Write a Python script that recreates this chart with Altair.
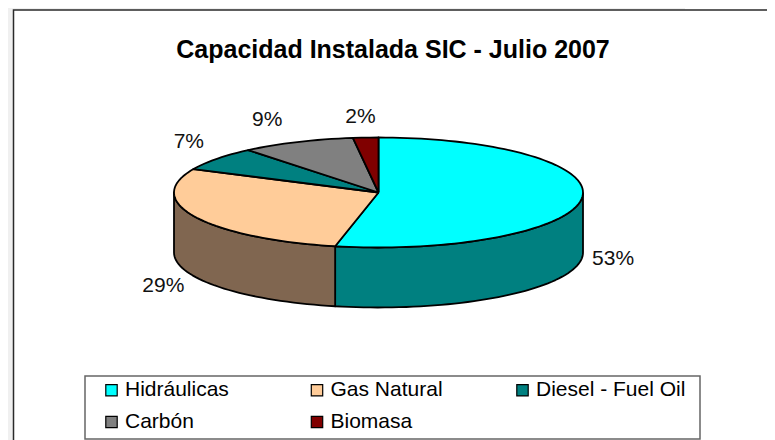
import math
import altair as alt
import pandas as pd

categories = ["Hidráulicas", "Gas Natural", "Diesel - Fuel Oil", "Carbón", "Biomasa"]
shares = [53.4, 28.6, 7, 9, 2]
face_colors = ["#00FFFF", "#FFCC99", "#008080", "#808080", "#800000"]
wall_colors = {"Hidráulicas": "#008080", "Gas Natural": "#806650"}
chart_title = "Capacidad Instalada SIC - Julio 2007"

W, H = 759, 432
CX, CY, RX, RY, DEPTH = 370.5, 184.5, 204.5, 55, 60
LABEL_RX, LABEL_RY = 240, 78
LABEL_NUDGE = {"Hidráulicas": (-4, -2), "Gas Natural": (0, -1), "Diesel - Fuel Oil": (0, -3), "Carbón": (-16, -1), "Biomasa": (-3, 2)}


def ellipse(deg, drop=0.0):
    a = math.radians(deg)
    return CX + RX * math.sin(a), CY - RY * math.cos(a) + drop


def span(start, end):
    n = max(2, int(abs(end - start) / 2) + 1)
    return [start + (end - start) * i / (n - 1) for i in range(n)]


faces, walls, labels = [], [], []
start = 0.0
for cat, share in zip(categories, shares):
    end = start + share * 3.6
    poly = [(CX, CY)] + [ellipse(d) for d in span(start, end)] + [(CX, CY)]
    faces += [{"cat": cat, "i": i, "x": x, "y": y} for i, (x, y) in enumerate(poly)]
    lo, hi = max(start, 90.0), min(end, 270.0)
    if lo < hi:
        top = [ellipse(d) for d in span(lo, hi)]
        bottom = [ellipse(d, DEPTH) for d in span(hi, lo)]
        ring = top + bottom + top[:1]
        walls += [{"cat": cat, "i": i, "x": x, "y": y} for i, (x, y) in enumerate(ring)]
    mid = math.radians((start + end) / 2)
    lx = CX + LABEL_RX * math.sin(mid) + LABEL_NUDGE[cat][0]
    ly = CY - LABEL_RY * math.cos(mid) + (DEPTH if math.cos(mid) < 0 else 0) + LABEL_NUDGE[cat][1]
    labels.append({"cat": cat, "x": lx, "y": ly, "label": f"{round(share)}%"})
    start = end

xs = alt.Scale(domain=[0, W], range=[0, W], nice=False, zero=False)
ys = alt.Scale(domain=[0, H], range=[0, H], nice=False, zero=False)
X = lambda f="x": alt.X(f"{f}:Q", scale=xs, axis=None)
Y = lambda f="y": alt.Y(f"{f}:Q", scale=ys, axis=None)
one = pd.DataFrame({"k": [0]})

grey = alt.Chart(one).mark_rect(fill="#F0F0F0").encode(
    x=alt.value(0), x2=alt.value(677), y=alt.value(0), y2=alt.value(H))
frame = alt.Chart(one).mark_rect(fill="white", stroke="#2A2A2A", strokeWidth=1.5).encode(
    x=alt.value(5.5), x2=alt.value(W + 20), y=alt.value(2), y2=alt.value(H + 20))
legend_box = alt.Chart(one).mark_rect(fill="white", stroke="#666666", strokeWidth=1.5).encode(
    x=alt.value(77), x2=alt.value(692), y=alt.value(368), y2=alt.value(431))

wall_layers = [
    alt.Chart(pd.DataFrame([r for r in walls if r["cat"] == c])).mark_line(
        fill=col, stroke="black", strokeWidth=1.8, strokeJoin="round"
    ).encode(x=X(), y=Y(), order="i:Q")
    for c, col in wall_colors.items()
]

face_layer = alt.Chart(pd.DataFrame(faces)).mark_line(
    stroke="black", strokeWidth=1.8, strokeJoin="round", filled=True
).encode(
    x=X(), y=Y(), order="i:Q",
    stroke=alt.value("black"),
    fill=alt.Fill(
        "cat:N",
        scale=alt.Scale(domain=categories, range=face_colors),
        legend=alt.Legend(
            title=None, orient="none", legendX=93, legendY=371.5, columns=3,
            direction="horizontal", gridAlign="all", columnPadding=31.5, rowPadding=10,
            symbolType="square", symbolSize=130, symbolStrokeColor="black",
            symbolStrokeWidth=1.2, symbolOpacity=1, labelFont="Liberation Sans",
            labelFontSize=21, labelColor="black", labelOffset=3, zindex=1,
            padding=0, labelLimit=300,
        ),
    ),
)

text_layer = alt.Chart(pd.DataFrame(labels)).mark_text(
    font="Liberation Sans", fontSize=21, color="#111111", align="center", baseline="middle"
).encode(x=X(), y=Y(), text="label:N")

chart = alt.layer(grey, frame, legend_box, *wall_layers, face_layer, text_layer).properties(
    width=W, height=H, padding=0,
    autosize=alt.AutoSizeParams(type="none"),
    title=alt.TitleParams(
        chart_title, font="Liberation Sans", fontSize=25, fontWeight="bold",
        color="black", anchor="middle", offset=-55, dx=5.5,
    ),
).configure_view(stroke=None)

chart.save("out.html", embed_options={"renderer": "svg", "actions": False})
